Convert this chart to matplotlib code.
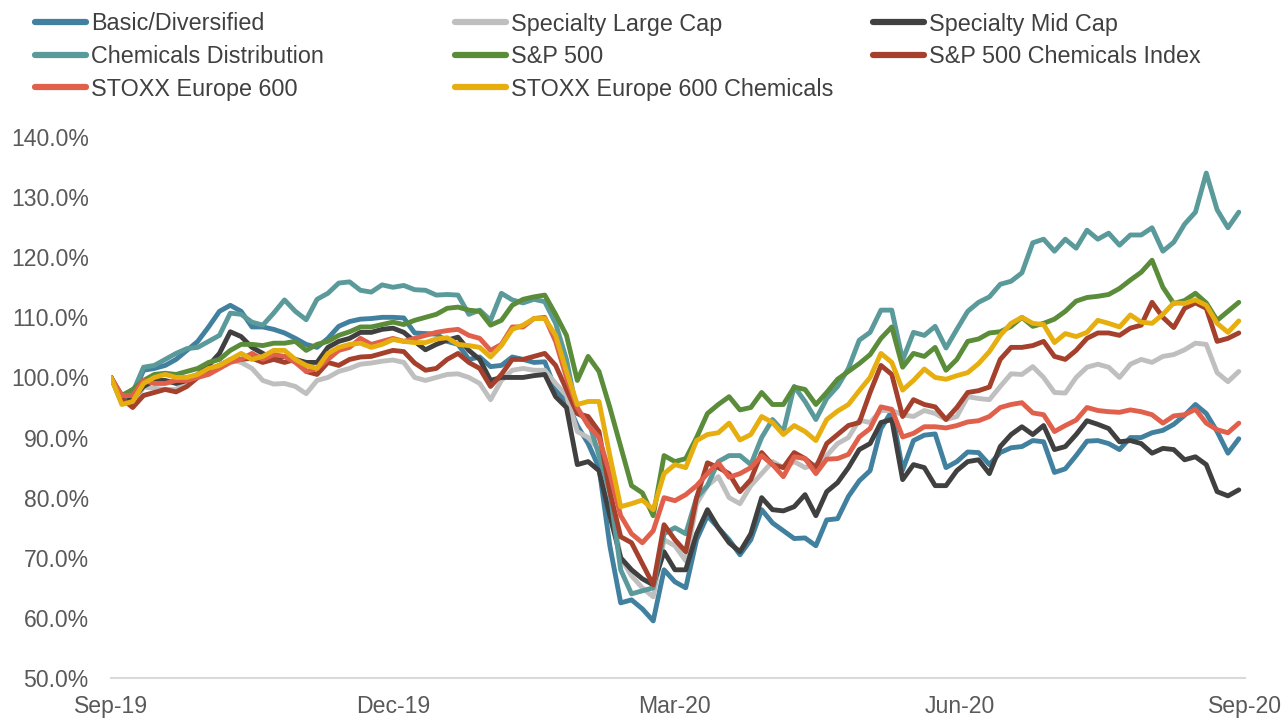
import matplotlib
matplotlib.use("Agg")
import matplotlib.pyplot as plt
from matplotlib.ticker import FuncFormatter
from matplotlib.lines import Line2D
import pandas as pd

plt.rcParams["font.family"] = ["Liberation Sans", "DejaVu Sans"]

# Twice-weekly observations, indexed to 100% at the start of the period
dates = pd.date_range("2019-09-01", periods=105, freq="84h")

basic_diversified = [
    100, 95.7, 97, 101.2, 101.5, 102, 103, 104.5, 106, 108.4,
    111, 112, 111, 108.4, 108.4, 108, 107.4, 106.5, 105.5, 105,
    106.5, 108.5, 109.3, 109.7, 109.8, 110, 110, 109.9, 107.4, 107.3,
    107.2, 106, 105.5, 103, 103.4, 101.8, 102, 103.4, 103, 102.5,
    102.6, 98, 96, 92, 89, 85, 72, 62.5, 63, 61.5,
    59.5, 68, 66, 65, 73, 77, 75, 73, 70.5, 73,
    78, 75.8, 74.5, 73.2, 73.3, 72, 76.3, 76.5, 80.2, 82.8,
    84.5, 91.5, 94.4, 84.6, 89.5, 90.4, 90.6, 85, 86, 87.6,
    87.5, 85.5, 87.5, 88.3, 88.5, 89.5, 89.3, 84.2, 84.8, 87,
    89.4, 89.5, 89, 88, 90, 90, 90.8, 91.2, 92.2, 93.7,
    95.5, 94, 91, 87.4, 89.8]
specialty_large_cap = [
    100, 96, 95.5, 98.4, 98.2, 98, 98, 99.5, 100, 101.5,
    102, 103, 102.5, 101.5, 99.5, 98.9, 99, 98.5, 97.3, 99.5,
    100, 101, 101.5, 102.2, 102.4, 102.7, 102.9, 102.5, 100, 99.5,
    100, 100.5, 100.6, 100, 99, 96.3, 99.5, 101.2, 101.5, 101.2,
    101.2, 99, 97, 91, 90, 88, 80, 70, 67, 65,
    63.5, 73, 72, 69.5, 79, 82, 83.5, 80, 79, 82,
    84, 86, 85, 86, 85, 85.5, 87, 89, 90, 92.9,
    92.5, 94.5, 94.5, 93.8, 93.5, 94.5, 94, 93, 93.5, 96.8,
    96.5, 96.3, 98.5, 100.6, 100.5, 101.8, 100, 97.5, 97.4, 100,
    101.7, 102.2, 101.7, 100, 102.2, 103, 102.5, 103.5, 103.8, 104.6,
    105.7, 105.5, 100.8, 99.3, 101]
specialty_mid_cap = [
    100, 96.5, 96.5, 98.5, 99.5, 99.5, 99, 99.5, 100.5, 102,
    104, 107.6, 106.8, 105, 104, 103, 103.5, 103, 102.5, 102.5,
    105, 106, 106.5, 107.5, 107.5, 108, 108.2, 107.5, 106, 104.6,
    105.5, 106.2, 106.7, 104.5, 103, 99.5, 100, 100, 100, 100.3,
    100.5, 96.8, 95, 85.5, 86, 84.5, 77, 70, 68, 66.5,
    65.5, 71, 68, 68, 74, 78, 75, 72.5, 71, 74,
    80, 78, 77.8, 78.5, 80.5, 77, 81, 82.5, 85, 88,
    89, 92.5, 93, 83, 85.5, 85, 82, 82, 84.5, 86,
    86.3, 84, 88.5, 90.5, 91.8, 90.5, 92, 88, 88.5, 90.5,
    92.8, 92.2, 91.5, 89.3, 89.5, 89, 87.4, 88.2, 88, 86.3,
    86.8, 85.5, 81, 80.3, 81.3]
chemicals_distribution = [
    100, 96.5, 97.5, 101.7, 102, 103, 104, 104.8, 105, 106,
    107, 110.7, 110.5, 109.2, 108.7, 110.7, 112.9, 111, 109.6, 113,
    114, 115.7, 115.9, 114.5, 114.2, 115.4, 115, 115.3, 114.6, 114.5,
    113.7, 113.8, 113.7, 110.5, 111.2, 109.5, 114, 112.9, 112.4, 113,
    112.6, 109, 103, 94, 93, 87, 81, 68, 64, 64.5,
    65, 74, 75, 74, 80, 82, 86, 87, 87, 85.5,
    90, 93, 91, 98.5, 96, 93, 96.5, 98.5, 101.5, 106.2,
    107.5, 111.2, 111.2, 102.9, 107.5, 107, 108.5, 104.9, 108, 111,
    112.5, 113.4, 115.5, 116, 117.4, 122.4, 123, 121, 123, 121.5,
    124.5, 123, 124, 122, 123.7, 123.7, 124.9, 121, 122.5, 125.5,
    127.5, 134, 127.9, 124.9, 127.5]
sp500 = [
    100, 97, 98, 99.5, 100.5, 100.7, 100.5, 101, 101.5, 102.5,
    103, 104.5, 105.5, 105.5, 105.3, 105.7, 105.7, 106, 104.5, 105.5,
    106, 107, 107.6, 108.4, 108.4, 108.8, 109.2, 108.8, 109.5, 110,
    110.5, 111.5, 111.7, 111.2, 111, 108.7, 109.5, 112, 113, 113.4,
    113.7, 110.5, 107, 99.5, 103.5, 101, 95, 88.5, 82, 80.8,
    77, 87, 86, 86.5, 90, 94, 95.5, 96.8, 94.6, 95,
    97.5, 95.5, 95.5, 98.4, 98, 95.5, 97.5, 99.7, 101, 102.3,
    103.8, 106.5, 108.4, 101.7, 104, 103.5, 105, 101.2, 103, 106,
    106.4, 107.4, 107.6, 108.5, 110, 108.5, 109, 109.7, 111, 112.7,
    113.3, 113.5, 113.8, 114.8, 116.2, 117.5, 119.5, 115, 112.3, 112.8,
    114, 112.4, 109.5, 111, 112.5]
sp500_chemicals = [
    100, 96.5, 95, 97, 97.5, 98, 97.6, 98.5, 100, 101,
    102, 102.9, 103, 103.2, 102.5, 103, 102.5, 103, 101, 100.5,
    102.5, 102, 103, 103.4, 103.5, 104, 104.5, 104.3, 102.4, 101.2,
    101.5, 103, 104, 102.5, 101.5, 98.5, 100.5, 103, 103, 103.5,
    104, 102, 98, 94, 93.5, 91, 81, 73.5, 72.5, 69,
    65.5, 75.5, 73, 71, 80, 85.8, 85, 84, 81, 83,
    87.5, 85.5, 85, 87.5, 86.5, 85, 89, 90.5, 92, 92.5,
    97.5, 102, 100.5, 93.5, 96.3, 95.5, 95.1, 93, 95, 97.5,
    97.8, 98.4, 103, 105, 105, 105.3, 106, 103.5, 103, 104.5,
    106.5, 107.4, 107.4, 107, 108.2, 108.7, 112.5, 110, 108.3, 111.5,
    112.4, 111.5, 106, 106.5, 107.4]
stoxx600 = [
    100, 97, 97, 99.5, 99, 99, 99.5, 99.5, 100, 100.5,
    101.5, 102.5, 103, 104, 103, 103.8, 103.5, 102.5, 101, 101.5,
    103, 104.5, 105, 106.5, 105.5, 106, 106.5, 106, 106.5, 107,
    107.5, 107.8, 108, 107, 106.5, 104.5, 105.5, 108.4, 108.4, 109.8,
    110, 106, 100, 95, 92, 90, 84, 77, 74, 72.5,
    74.5, 80, 79.5, 80.5, 82, 84, 85.8, 83.4, 84, 85,
    87, 85.5, 83.5, 86.8, 86.5, 84, 86.4, 86.5, 87.2, 90.1,
    91.5, 95.1, 94.7, 90.1, 90.7, 91.8, 91.8, 91.6, 92, 92.6,
    92.8, 93.5, 95, 95.5, 95.8, 94.1, 93.8, 91, 92, 92.9,
    95, 94.5, 94.3, 94.2, 94.6, 94.3, 93.8, 92.4, 93.6, 93.8,
    94.7, 92.4, 91.3, 90.8, 92.4]
stoxx600_chemicals = [
    100, 95.5, 96, 99, 100, 100.5, 100, 100, 100.5, 101.5,
    102, 103, 104, 103, 103.5, 104.5, 104.5, 103, 102, 101.5,
    104, 105, 105.5, 105.7, 105, 105.5, 106.3, 106, 105.8, 105.8,
    106.4, 106.6, 105.5, 105.3, 105, 103.4, 105.3, 108, 108.7, 109.8,
    109.8, 107, 101, 95.5, 96, 96, 87, 78.5, 79, 79.6,
    78, 84, 85.5, 85, 89.5, 90.5, 90.8, 92.4, 89.6, 90.5,
    93.5, 92.5, 90.5, 92, 91, 89.5, 93, 94.4, 95.5, 97.8,
    100, 104, 102.5, 97.9, 99.5, 101.4, 100, 99.7, 100.3, 100.8,
    102.3, 104.3, 107, 109, 110, 109, 108.8, 105.8, 107.3, 106.8,
    107.5, 109.5, 109, 108.4, 110.4, 109.2, 109, 110.5, 112.4, 112.3,
    112.9, 112, 109, 107.5, 109.4]

names = ["Basic/Diversified", "Specialty Large Cap", "Specialty Mid Cap",
         "Chemicals Distribution", "S&P 500", "S&P 500 Chemicals Index",
         "STOXX Europe 600", "STOXX Europe 600 Chemicals"]
values = [basic_diversified, specialty_large_cap, specialty_mid_cap,
          chemicals_distribution, sp500, sp500_chemicals, stoxx600, stoxx600_chemicals]
colors = ["#41809F", "#BFBFBF", "#404040", "#5B9A9B",
          "#5A8C3A", "#A5402D", "#E0604B", "#E6AE0E"]

tick_dates = pd.to_datetime(["2019-09-01", "2019-12-01", "2020-03-01",
                             "2020-06-01", "2020-09-01"])
tick_labels = ["Sep-19", "Dec-19", "Mar-20", "Jun-20", "Sep-20"]

W, H = 1284, 719
fig = plt.figure(figsize=(W / 100, H / 100), dpi=100)
ax = fig.add_axes([111 / W, 1 - 678 / H, (1245 - 111) / W, (678 - 137) / H])

for i, (name, vals, col) in enumerate(zip(names, values, colors)):
    ax.plot(dates, vals, color=col, lw=3.5, solid_joinstyle="round",
            solid_capstyle="round", label=name, zorder=2 + i)

ax.set_ylim(50, 140)
ax.set_yticks(range(50, 141, 10))
ax.yaxis.set_major_formatter(FuncFormatter(lambda v, p: f"{v:.1f}%"))
ax.set_xlim(pd.Timestamp("2019-09-01"), pd.Timestamp("2020-09-01"))
ax.set_xticks(tick_dates)
ax.set_xticklabels(tick_labels)

for side in ("top", "right", "left"):
    ax.spines[side].set_visible(False)
ax.spines["bottom"].set_color("#D9D9D9")
ax.spines["bottom"].set_linewidth(1.5)

ax.tick_params(length=0, labelsize=16.6, colors="#595959")
ax.tick_params(axis="y", pad=16)
ax.tick_params(axis="x", pad=12)

# Legend laid out as three columns, filled row by row
columns = [[0, 3, 6], [1, 4, 7], [2, 5]]
col_x = [35, 455, 873]
for idxs, x in zip(columns, col_x):
    handles = [Line2D([], [], color=colors[i], lw=4.5, solid_capstyle="round")
               for i in idxs]
    fig.legend(handles, [names[i] for i in idxs], loc="upper left",
               bbox_to_anchor=(x / W, 1 - 12.5 / H), frameon=False, fontsize=16.8,
               handlelength=2.2, handletextpad=0.2, labelspacing=0.41,
               borderpad=0, borderaxespad=0, labelcolor="#404040")

fig.savefig("out.png", dpi=100)
